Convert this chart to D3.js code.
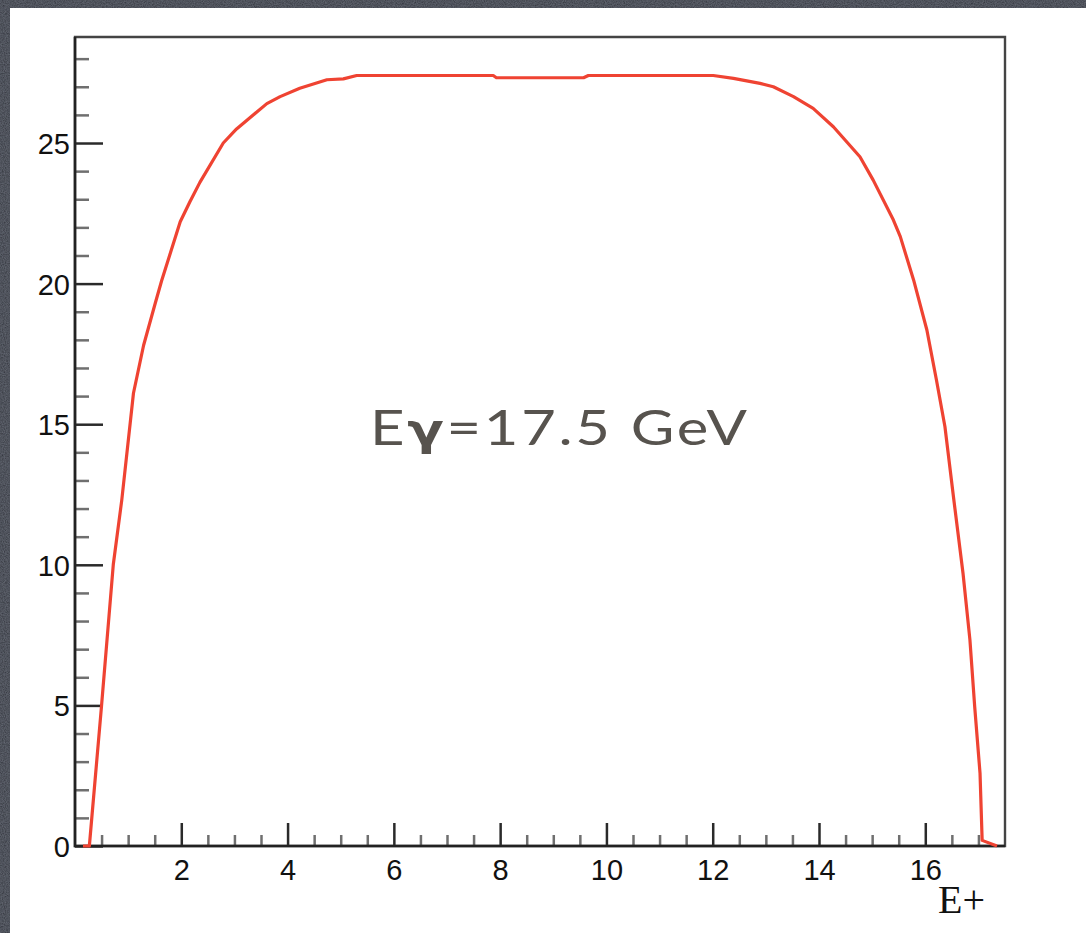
<!DOCTYPE html>
<html>
<head>
<meta charset="utf-8">
<script src="https://cdn.jsdelivr.net/npm/d3@7"></script>
<style>
  html, body { margin: 0; padding: 0; background: #33363f; }
  svg { display: block; }
</style>
</head>
<body>
<svg id="chart" width="1086" height="933"></svg>
<script>
// Positron energy spectrum for a 17.5 GeV photon
const energy = [0.15, 0.27, 0.50, 0.72, 0.88, 1.10, 1.29, 1.51, 1.63, 1.98, 2.16, 2.35, 2.79, 3.04,
  3.61, 3.86, 4.23, 4.74, 5.05, 5.30, 7.87, 7.93, 9.57, 9.66, 12.01, 12.39, 12.89, 13.14,
  13.52, 13.89, 14.27, 14.77, 15.02, 15.40, 15.53, 15.78, 16.03, 16.21, 16.37, 16.53,
  16.71, 16.84, 16.93, 17.03, 17.07, 17.35];
const yield_ = [0, 0, 5.0, 10.0, 12.3, 16.1, 17.8, 19.3, 20.1, 22.2, 22.9, 23.6, 25.0, 25.5,
  26.4, 26.65, 26.95, 27.25, 27.28, 27.4, 27.4, 27.32, 27.32, 27.4, 27.4, 27.3, 27.12, 27.0,
  26.65, 26.23, 25.58, 24.51, 23.68, 22.26, 21.67, 20.13, 18.35, 16.57, 14.91, 12.42,
  9.70, 7.33, 4.95, 2.59, 0.2, 0];

const xMajorTicks = [2, 4, 6, 8, 10, 12, 14, 16];
const yMajorTicks = [0, 5, 10, 15, 20, 25];
const xDomain = [0, 17.5];
const yDomain = [0, 28.77];
const axisTitle = "E+";
const annotation = ["E", "\u03b3", "=17.5 GeV"];

const svg = d3.select("#chart");
const W = 1086, H = 933;
const plot = { left: 75, right: 1005, top: 37, bottom: 846 };

// Grainy dark backdrop
const defs = svg.append("defs");
const grain = defs.append("filter").attr("id", "grain")
  .attr("x", 0).attr("y", 0).attr("width", "100%").attr("height", "100%");
grain.append("feTurbulence").attr("type", "fractalNoise").attr("baseFrequency", 0.9)
  .attr("numOctaves", 2).attr("seed", 3).attr("result", "noise");
grain.append("feColorMatrix").attr("in", "noise").attr("type", "matrix")
  .attr("values", "0 0 0 0 0.22  0 0 0 0 0.24  0 0 0 0 0.29  0 0 0 0.55 0")
  .attr("result", "tint");
grain.append("feComposite").attr("in", "tint").attr("in2", "SourceGraphic").attr("operator", "over");
svg.append("rect").attr("width", W).attr("height", H).attr("fill", "#2c2f37")
  .attr("filter", "url(#grain)");

// White page area
svg.append("rect").attr("x", 10).attr("y", 8).attr("width", W - 10).attr("height", H - 8)
  .attr("fill", "#ffffff");

const x = d3.scaleLinear().domain(xDomain).range([plot.left, plot.right]);
const y = d3.scaleLinear().domain(yDomain).range([plot.bottom, plot.top]);

const xMinor = d3.range(0.5, 17.5, 0.5).filter(v => v % 2 !== 0);
const yMinor = d3.range(1, 29, 1).filter(v => v % 5 !== 0);

const labelFont = "'Liberation Sans', Arial, Helvetica, sans-serif";

// Minor ticks
svg.append("g").attr("transform", `translate(0,${plot.bottom})`)
  .call(d3.axisBottom(x).tickValues(xMinor).tickSize(-11).tickSizeOuter(0).tickFormat(""))
  .call(g => g.select(".domain").remove())
  .call(g => g.selectAll("line").attr("stroke", "#6f6f6f").attr("stroke-width", 2.5));

svg.append("g").attr("transform", `translate(${plot.left},0)`)
  .call(d3.axisLeft(y).tickValues(yMinor).tickSize(-14).tickSizeOuter(0).tickFormat(""))
  .call(g => g.select(".domain").remove())
  .call(g => g.selectAll("line").attr("stroke", "#6f6f6f").attr("stroke-width", 2.5));

// Major ticks and labels
svg.append("g").attr("transform", `translate(0,${plot.bottom})`)
  .call(d3.axisBottom(x).tickValues(xMajorTicks).tickSize(-23).tickSizeOuter(0).tickFormat(d3.format("d")))
  .call(g => g.select(".domain").remove())
  .call(g => g.selectAll("line").attr("stroke", "#2a2a2a").attr("stroke-width", 2.5))
  .call(g => g.selectAll("text")
    .attr("y", 34).attr("dy", null)
    .attr("fill", "#111").attr("font-family", labelFont).attr("font-size", 29));

svg.append("g").attr("transform", `translate(${plot.left},0)`)
  .call(d3.axisLeft(y).tickValues(yMajorTicks).tickSize(-28).tickSizeOuter(0).tickFormat(d3.format("d")))
  .call(g => g.select(".domain").remove())
  .call(g => g.selectAll("line").attr("stroke", "#2a2a2a").attr("stroke-width", 2.5))
  .call(g => g.selectAll("text")
    .attr("x", -5).attr("dy", "0.36em")
    .attr("fill", "#111").attr("font-family", labelFont).attr("font-size", 29));

// Frame
svg.append("path")
  .attr("d", `M${plot.left},${plot.bottom}H${plot.right}V${plot.top}H${plot.left}Z`)
  .attr("fill", "none").attr("stroke", "#444").attr("stroke-width", 2.4);
svg.append("path")
  .attr("d", `M${plot.left},${plot.top}V${plot.bottom}H${plot.right}`)
  .attr("fill", "none").attr("stroke", "#222").attr("stroke-width", 2.6);

// Spectrum curve
const pts = energy.map((e, i) => [e, yield_[i]]);
svg.append("path")
  .datum(pts)
  .attr("fill", "none")
  .attr("stroke", "#ef4332")
  .attr("stroke-width", 3.2)
  .attr("stroke-linejoin", "round")
  .attr("d", d3.line().x(d => x(d[0])).y(d => y(d[1])));

// Axis title
svg.append("text")
  .attr("x", 985).attr("y", 913)
  .attr("text-anchor", "end")
  .attr("font-family", "'Liberation Serif', 'Times New Roman', serif")
  .attr("font-size", 40)
  .attr("fill", "#111")
  .text(axisTitle);

// Photon energy annotation (wide display face: horizontal stretch, fitted width)
const annWidth = 377, stretch = 1.22;
const ann = svg.append("text")
  .attr("transform", `translate(370,445) scale(${stretch},1)`)
  .attr("font-family", "Lato, 'Open Sans', sans-serif")
  .attr("font-size", 49)
  .attr("fill", "#57534e")
  .attr("textLength", annWidth / stretch)
  .attr("lengthAdjust", "spacing");
ann.append("tspan").text(annotation[0]);
ann.append("tspan").attr("font-family", "'DejaVu Sans', sans-serif").attr("font-weight", "bold")
  .attr("font-size", 44).text(annotation[1]);
ann.append("tspan").text(annotation[2]);
</script>
</body>
</html>
